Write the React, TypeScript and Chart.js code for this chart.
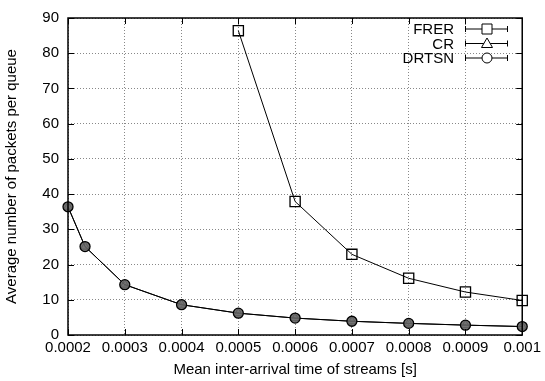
import React, { useEffect, useRef } from "react";
import { Chart, registerables } from "chart.js";
Chart.register(...registerables);

const xTicks = [0.0002, 0.0003, 0.0004, 0.0005, 0.0006, 0.0007, 0.0008, 0.0009, 0.001];
const yTicks = [0, 10, 20, 30, 40, 50, 60, 70, 80, 90];

const frerX = [0.0005, 0.0006, 0.0007, 0.0008, 0.0009, 0.001];
const frerY = [86.4, 37.9, 22.9, 16.1, 12.2, 9.8];

const crX = [0.0002, 0.00023, 0.0003, 0.0004, 0.0005, 0.0006, 0.0007, 0.0008, 0.0009, 0.001];
const crY = [36.4, 25.1, 14.3, 8.6, 6.2, 4.8, 3.9, 3.3, 2.8, 2.4];
const drtsnY = [36.4, 25.1, 14.3, 8.6, 6.2, 4.8, 3.9, 3.3, 2.8, 2.4];

const seriesNames = ["FRER", "CR", "DRTSN"];
const FONT = "'Liberation Sans', Arial, sans-serif";
const FS = 15;

const toPts = (xs: number[], ys: number[]) => xs.map((x, i) => ({ x, y: ys[i] }));

const frame = {
  id: "frame",
  afterDatasetsDraw(chart: any) {
    const { ctx, chartArea: a, scales } = chart;
    ctx.save();
    ctx.strokeStyle = "#000";
    ctx.lineWidth = 1;
    ctx.beginPath();
    const tl = 6;
    for (const v of xTicks) {
      const px = Math.round(scales.x.getPixelForValue(v)) + 0.5;
      ctx.moveTo(px, a.bottom); ctx.lineTo(px, a.bottom - tl);
      ctx.moveTo(px, a.top); ctx.lineTo(px, a.top + tl);
    }
    for (const v of yTicks) {
      const py = Math.round(scales.y.getPixelForValue(v)) + 0.5;
      ctx.moveTo(a.left, py); ctx.lineTo(a.left + tl, py);
      ctx.moveTo(a.right, py); ctx.lineTo(a.right - tl, py);
    }
    ctx.stroke();
    ctx.lineWidth = 1.5;
    ctx.strokeRect(a.left, a.top, a.right - a.left, a.bottom - a.top);

    // legend
    const rows = [29, 43.5, 58];
    const styles = ["rect", "triangle", "circle"];
    ctx.font = `${FS}px ${FONT}`;
    ctx.fillStyle = "#000";
    ctx.textAlign = "right";
    ctx.textBaseline = "middle";
    ctx.lineWidth = 1;
    rows.forEach((y, i) => {
      ctx.fillText(seriesNames[i], 454, y + 1);
      ctx.beginPath();
      ctx.moveTo(465, y); ctx.lineTo(508, y);
      ctx.moveTo(465.5, y - 3); ctx.lineTo(465.5, y + 3);
      ctx.moveTo(507.5, y - 3); ctx.lineTo(507.5, y + 3);
      ctx.stroke();
      ctx.fillStyle = "#fff";
      ctx.beginPath();
      if (styles[i] === "rect") {
        ctx.rect(482, y - 5, 10, 10);
      } else if (styles[i] === "circle") {
        ctx.arc(487, y, 5, 0, Math.PI * 2);
      } else {
        ctx.moveTo(487, y - 5.5); ctx.lineTo(492.5, y + 4); ctx.lineTo(481.5, y + 4); ctx.closePath();
      }
      ctx.fill();
      ctx.stroke();
      ctx.fillStyle = "#000";
    });
    ctx.restore();
  },
};

export default function App() {
  const ref = useRef<HTMLCanvasElement>(null);
  useEffect(() => {
    document.body.style.margin = "0";
    const chart = new Chart(ref.current!, {
      type: "scatter",
      data: {
        datasets: [
          {
            label: seriesNames[0],
            data: toPts(frerX, frerY),
            showLine: true,
            clip: false,
            borderColor: "#000",
            borderWidth: 1,
            pointStyle: "rect",
            pointRadius: 7.2,
            pointBackgroundColor: "rgba(255,255,255,0)",
            pointBorderColor: "#000",
            pointBorderWidth: 1.3,
          },
          {
            label: seriesNames[2],
            data: toPts(crX, drtsnY),
            showLine: true,
            clip: false,
            borderColor: "#000",
            borderWidth: 1,
            pointStyle: "circle",
            pointRadius: 5,
            pointBackgroundColor: "rgba(100,100,100,0.9)",
            pointBorderColor: "#000",
            pointBorderWidth: 1.3,
          },
          {
            label: seriesNames[1],
            data: toPts(crX, crY),
            showLine: true,
            clip: false,
            borderColor: "#000",
            borderWidth: 1,
            pointStyle: "triangle",
            pointRadius: 5,
            pointBackgroundColor: "rgba(0,0,0,0)",
            pointBorderColor: "#222",
            pointBorderWidth: 1,
          },
        ],
      },
      options: {
        animation: false,
        responsive: false,
        layout: { padding: { left: 0, right: 18, top: 17, bottom: 0 } },
        plugins: { legend: { display: false }, tooltip: { enabled: false } },
        scales: {
          x: {
            type: "linear",
            min: 0.0002,
            max: 0.001,
            afterBuildTicks: (s: any) => { s.ticks = xTicks.map((v) => ({ value: v })); },
            afterFit: (s: any) => { s.height = 46; },
            ticks: {
              color: "#000",
              font: { family: FONT, size: FS },
              padding: 4,
              maxRotation: 0,
              autoSkip: false,
              callback: (v: any) => String(Number(Number(v).toPrecision(6))),
            },
            grid: { color: "#888", lineWidth: 1, drawTicks: false },
            border: { display: false, dash: [1, 2] },
            title: {
              display: true,
              text: "Mean inter-arrival time of streams [s]",
              color: "#000",
              font: { family: FONT, size: FS },
              padding: { top: 0, bottom: 2 },
            },
          },
          y: {
            min: 0,
            max: 90,
            afterBuildTicks: (s: any) => { s.ticks = yTicks.map((v) => ({ value: v })); },
            afterFit: (s: any) => { s.width = 68; },
            ticks: { color: "#000", font: { family: FONT, size: FS }, padding: 9 },
            grid: { color: "#888", lineWidth: 1, drawTicks: false },
            border: { display: false, dash: [1, 2] },
            title: {
              display: true,
              text: "Average number of packets per queue",
              color: "#000",
              font: { family: FONT, size: FS },
              padding: { top: 3, bottom: 0 },
            },
          },
        },
      },
      plugins: [frame],
    } as any);
    return () => chart.destroy();
  }, []);
  return (
    <div style={{ position: "absolute", left: 0, top: 0, width: 545, height: 381 }}>
      <canvas ref={ref} width={545} height={381} style={{ width: 545, height: 381 }} />
    </div>
  );
}
